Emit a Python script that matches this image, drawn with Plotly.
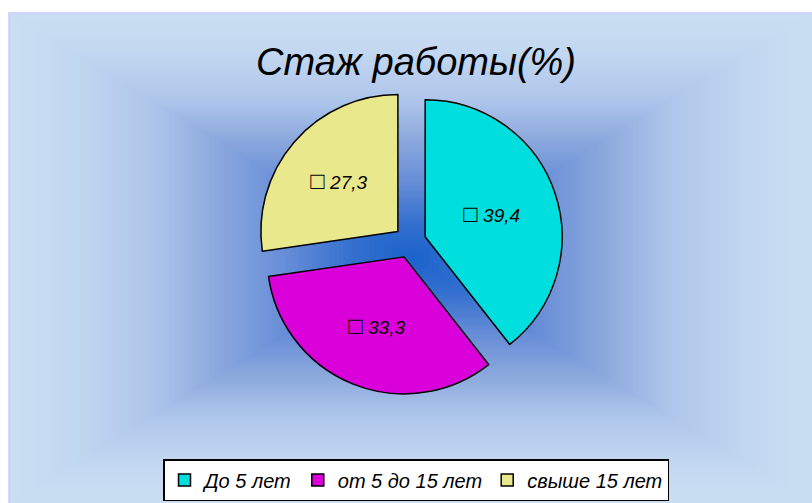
import plotly.graph_objects as go

# ---- data ----
categories = ["До 5 лет", "от 5 до 15 лет", "свыше 15 лет"]
values = [39.4, 33.3, 27.3]
title_text = "Стаж работы(%)"

# ---- style ----
W, H = 812, 503
slice_colors = ["#00dede", "#da00da", "#eae88c"]
FONT = "Arial, 'Liberation Sans', sans-serif"

def px(x):
    return x / W

def py(y):
    return 1 - y / H

# rectangular "from centre" gradient background of chart area
area = (9, 13, 812, 503)
cx, cy = (area[0] + area[2]) / 2, (area[1] + area[3]) / 2
hw, hh = (area[2] - area[0]) / 2, (area[3] - area[1]) / 2
stops = [
    (0.00, (26, 98, 204)),
    (0.15, (52, 112, 206)),
    (0.30, (98, 138, 214)),
    (0.47, (136, 166, 220)),
    (0.64, (172, 196, 234)),
    (0.75, (186, 207, 237)),
    (0.88, (197, 218, 241)),
    (1.00, (202, 222, 243)),
]

def col(t):
    for (t0, c0), (t1, c1) in zip(stops[:-1], stops[1:]):
        if t0 <= t <= t1:
            f = (t - t0) / (t1 - t0)
            c = [round(a + (b - a) * f) for a, b in zip(c0, c1)]
            return "rgb(%d,%d,%d)" % tuple(c)
    return "rgb(%d,%d,%d)" % stops[-1][1]

shapes = []
N = 90
for i in range(N, 0, -1):
    t = i / N
    shapes.append(dict(
        type="rect", xref="paper", yref="paper", layer="below",
        x0=px(cx - t * hw), x1=px(cx + t * hw),
        y0=py(cy + t * hh), y1=py(cy - t * hh),
        fillcolor=col(t), line=dict(width=0),
    ))
shapes.append(dict(
    type="rect", xref="paper", yref="paper", layer="below",
    x0=px(area[0]), x1=px(area[2]) + 0.01, y0=py(area[3]) - 0.01, y1=py(area[1]),
    fillcolor="rgba(0,0,0,0)", line=dict(color="#ccccff", width=1.5),
))

# pie placement
pcx, pcy, size = 410, 242, 306
fig = go.Figure(go.Pie(
    labels=categories,
    values=values,
    sort=False,
    direction="clockwise",
    rotation=0,
    pull=[0.117] * len(values),
    marker=dict(colors=slice_colors, line=dict(color="black", width=1.5)),
    texttemplate="<span style='font-size:24px;font-style:normal;font-weight:bold'>□</span> %{value:.1f}",
    textposition="inside",
    insidetextorientation="horizontal",
    textfont=dict(family=FONT, size=19, color="black", style="italic"),
    hoverinfo="label+value",
    domain=dict(x=[px(pcx - size / 2), px(pcx + size / 2)],
                y=[py(pcy + size / 2), py(pcy - size / 2)]),
    showlegend=True,
))

fig.update_layout(
    width=W, height=H,
    margin=dict(l=0, r=0, t=0, b=0),
    paper_bgcolor="white",
    plot_bgcolor="white",
    separators=", ",
    shapes=shapes,
    title=dict(
        text=title_text, x=px(416), y=py(62), xanchor="center", yanchor="middle",
        font=dict(family=FONT, size=38, color="black", style="italic"),
    ),
    legend=dict(
        orientation="h", x=px(163), xanchor="left", y=py(501), yanchor="bottom",
        bgcolor="white", bordercolor="black", borderwidth=1.5,
        font=dict(family=FONT, size=20, color="black", style="italic"),
        itemwidth=30, traceorder="normal",
    ),
)

fig.write_html(
    "out.html",
    config={"displayModeBar": False},
    post_script="document.body.style.margin='0';document.body.style.overflow='hidden';",
)
